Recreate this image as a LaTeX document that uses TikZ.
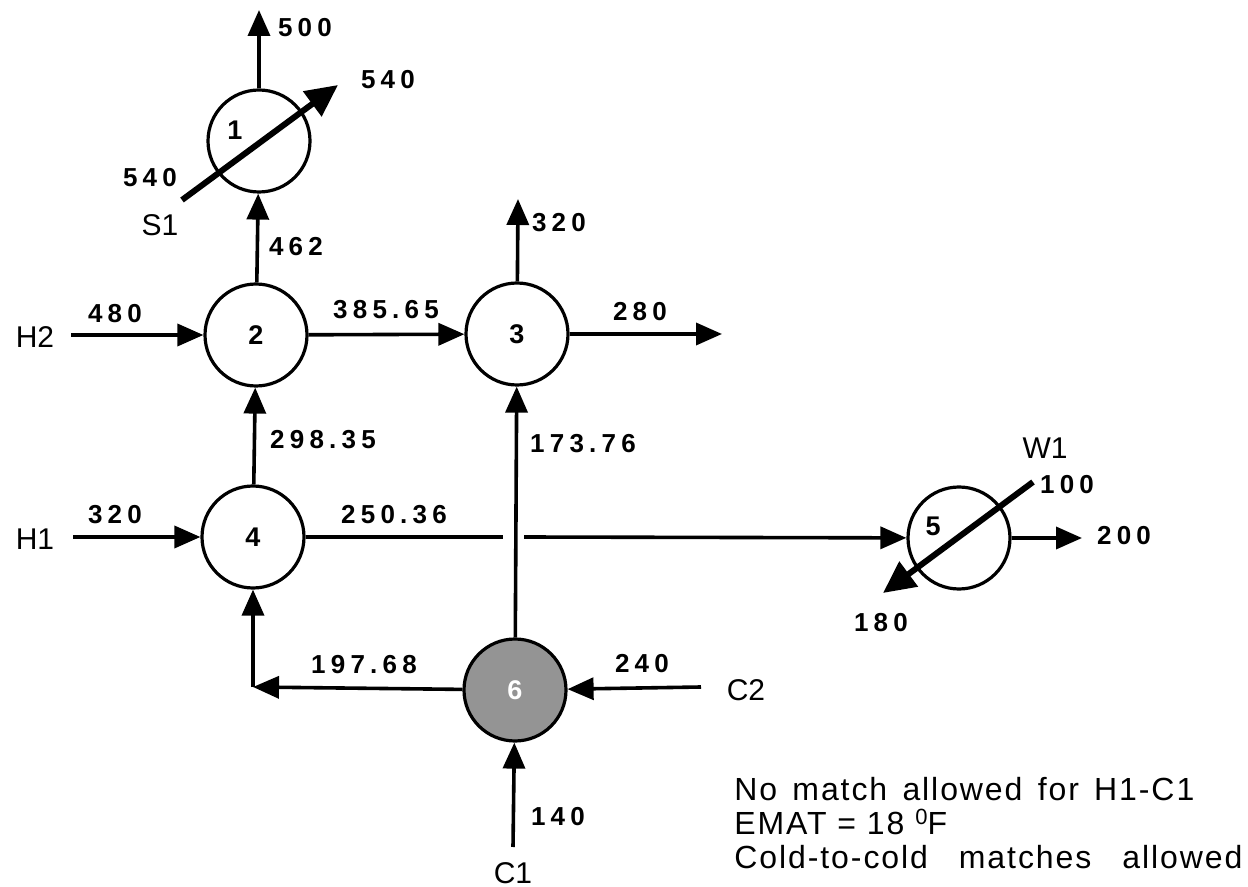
\documentclass[tikz,border=0pt]{standalone}
\usepackage{fontspec}
\setmainfont{Liberation Sans}
\newfontfamily\numfont{Liberation Sans}[LetterSpace=20]
\newfontfamily\notefont{Liberation Sans}[LetterSpace=6]
\usetikzlibrary{arrows.meta}
\begin{document}
\begin{tikzpicture}[x=0.5pt,y=-0.5pt,
  hx/.style={circle,draw,line width=1.6pt,minimum size=51pt,inner sep=0pt},
  num/.style={font=\numfont\bfseries\fontsize{13pt}{15pt}\selectfont,inner sep=0pt},
  idx/.style={font=\bfseries\fontsize{13.5pt}{15pt}\selectfont,inner sep=0pt},
  big/.style={font=\fontsize{15pt}{18pt}\selectfont,inner sep=0pt},
  note/.style={font=\notefont\fontsize{16pt}{19pt}\selectfont,inner sep=0pt,anchor=base west},
  conn/.style={line width=1.8pt},
  arr/.style={conn,-{Triangle[length=13pt,width=11pt]}},
  util/.style={line width=3pt,-{Triangle[length=16pt,width=15pt]}},
]
\useasboundingbox (0,0) rectangle (1248,887);

% exchangers
\node[hx] (n1) at (259,141) {};
\node[hx] (n2) at (256,335) {};
\node[hx] (n3) at (517,334) {};
\node[hx] (n4) at (253,537) {};
\node[hx] (n5) at (959,538) {};
\node[hx,fill=black!42] (n6) at (515,690) {};

\node[idx] (t1) at (235,130) {1};
\node[idx] (t2) at (n2) {2};
\node[idx] (t3) at (n3) {3};
\node[idx] (t4) at (n4) {4};
\node[idx] (t5) at (933,526) {5};
\node[idx,text=white] (t6) at (n6) {6};

% free ends
\coordinate (h2s) at (71,335);
\coordinate (h1s) at (73,537);
\coordinate (u1) at (259,10);
\coordinate (u3) at (518,199);
\coordinate (o3) at (722,334);
\coordinate (o5) at (1082,538);
\coordinate (gl) at (503,537);
\coordinate (gr) at (524,537);
\coordinate (c6) at (253,687);
\coordinate (c2s) at (701,687);
\coordinate (c1s) at (513,847);
\coordinate (s1a) at (182,200);
\coordinate (s1b) at (338,85);
\coordinate (w1a) at (1033,482);
\coordinate (w1b) at (883,593);

% connectors
\draw[arr] (h2s) -- (n2);
\draw[arr] (n2) -- (n3);
\draw[arr] (n3) -- (o3);
\draw[arr] (n3) -- (u3);
\draw[arr] (n4) -- (n2);
\draw[arr] (n2) -- (n1);
\draw[arr] (n1) -- (u1);
\draw[arr] (h1s) -- (n4);
\draw[conn] (n4) -- (gl);
\draw[arr] (gr) -- (n5);
\draw[arr] (n5) -- (o5);
\draw[arr] (n6) -- (c6);
\draw[arr] (c6) -- (n4);
\draw[arr] (c2s) -- (n6);
\draw[arr] (c1s) -- (n6);
\draw[arr] (n6) -- (n3);
\draw[util] (s1a) -- (s1b);
\draw[util] (w1a) -- (w1b);

% temperatures
\node[num] (l500) at (305,28) {500};
\node[num] (l540r) at (388,80) {540};
\node[num] (l540l) at (150,178) {540};
\node[num] (l462) at (296,247) {462};
\node[num] (l480) at (115,314) {480};
\node[num] (l385) at (386,310) {385.65};
\node[num] (l320a) at (559,223) {320};
\node[num] (l280) at (640,312) {280};
\node[num] (l298) at (323,440) {298.35};
\node[num] (l173) at (583,444) {173.76};
\node[num] (l320b) at (115,515) {320};
\node[num] (l250) at (394,515) {250.36};
\node[num] (l100) at (1067,485) {100};
\node[num] (l200) at (1124,536) {200};
\node[num] (l180) at (881,623) {180};
\node[num] (l197) at (364,665) {197.68};
\node[num] (l240) at (642,664) {240};
\node[num] (l140) at (558,817) {140};

% stream names
\node[big] (S1) at (160,225) {S1};
\node[big] (H2) at (35,337) {H2};
\node[big] (H1) at (35,539) {H1};
\node[big] (W1) at (1045,448) {W1};
\node[big] (C2) at (746,690) {C2};
\node[big] (C1) at (513,873) {C1};

% notes
\node[note] (nt1) at (734,800) {\makebox[230pt][s]{No match allowed for H1-C1}};
\node[note] (nt2) at (734,834) {EMAT = 18 \raisebox{0.55ex}{\fontsize{11pt}{12pt}\selectfont 0}F};
\node[note] (nt3) at (734,868) {\makebox[254pt][s]{Cold-to-cold matches allowed}};
\end{tikzpicture}
\end{document}
